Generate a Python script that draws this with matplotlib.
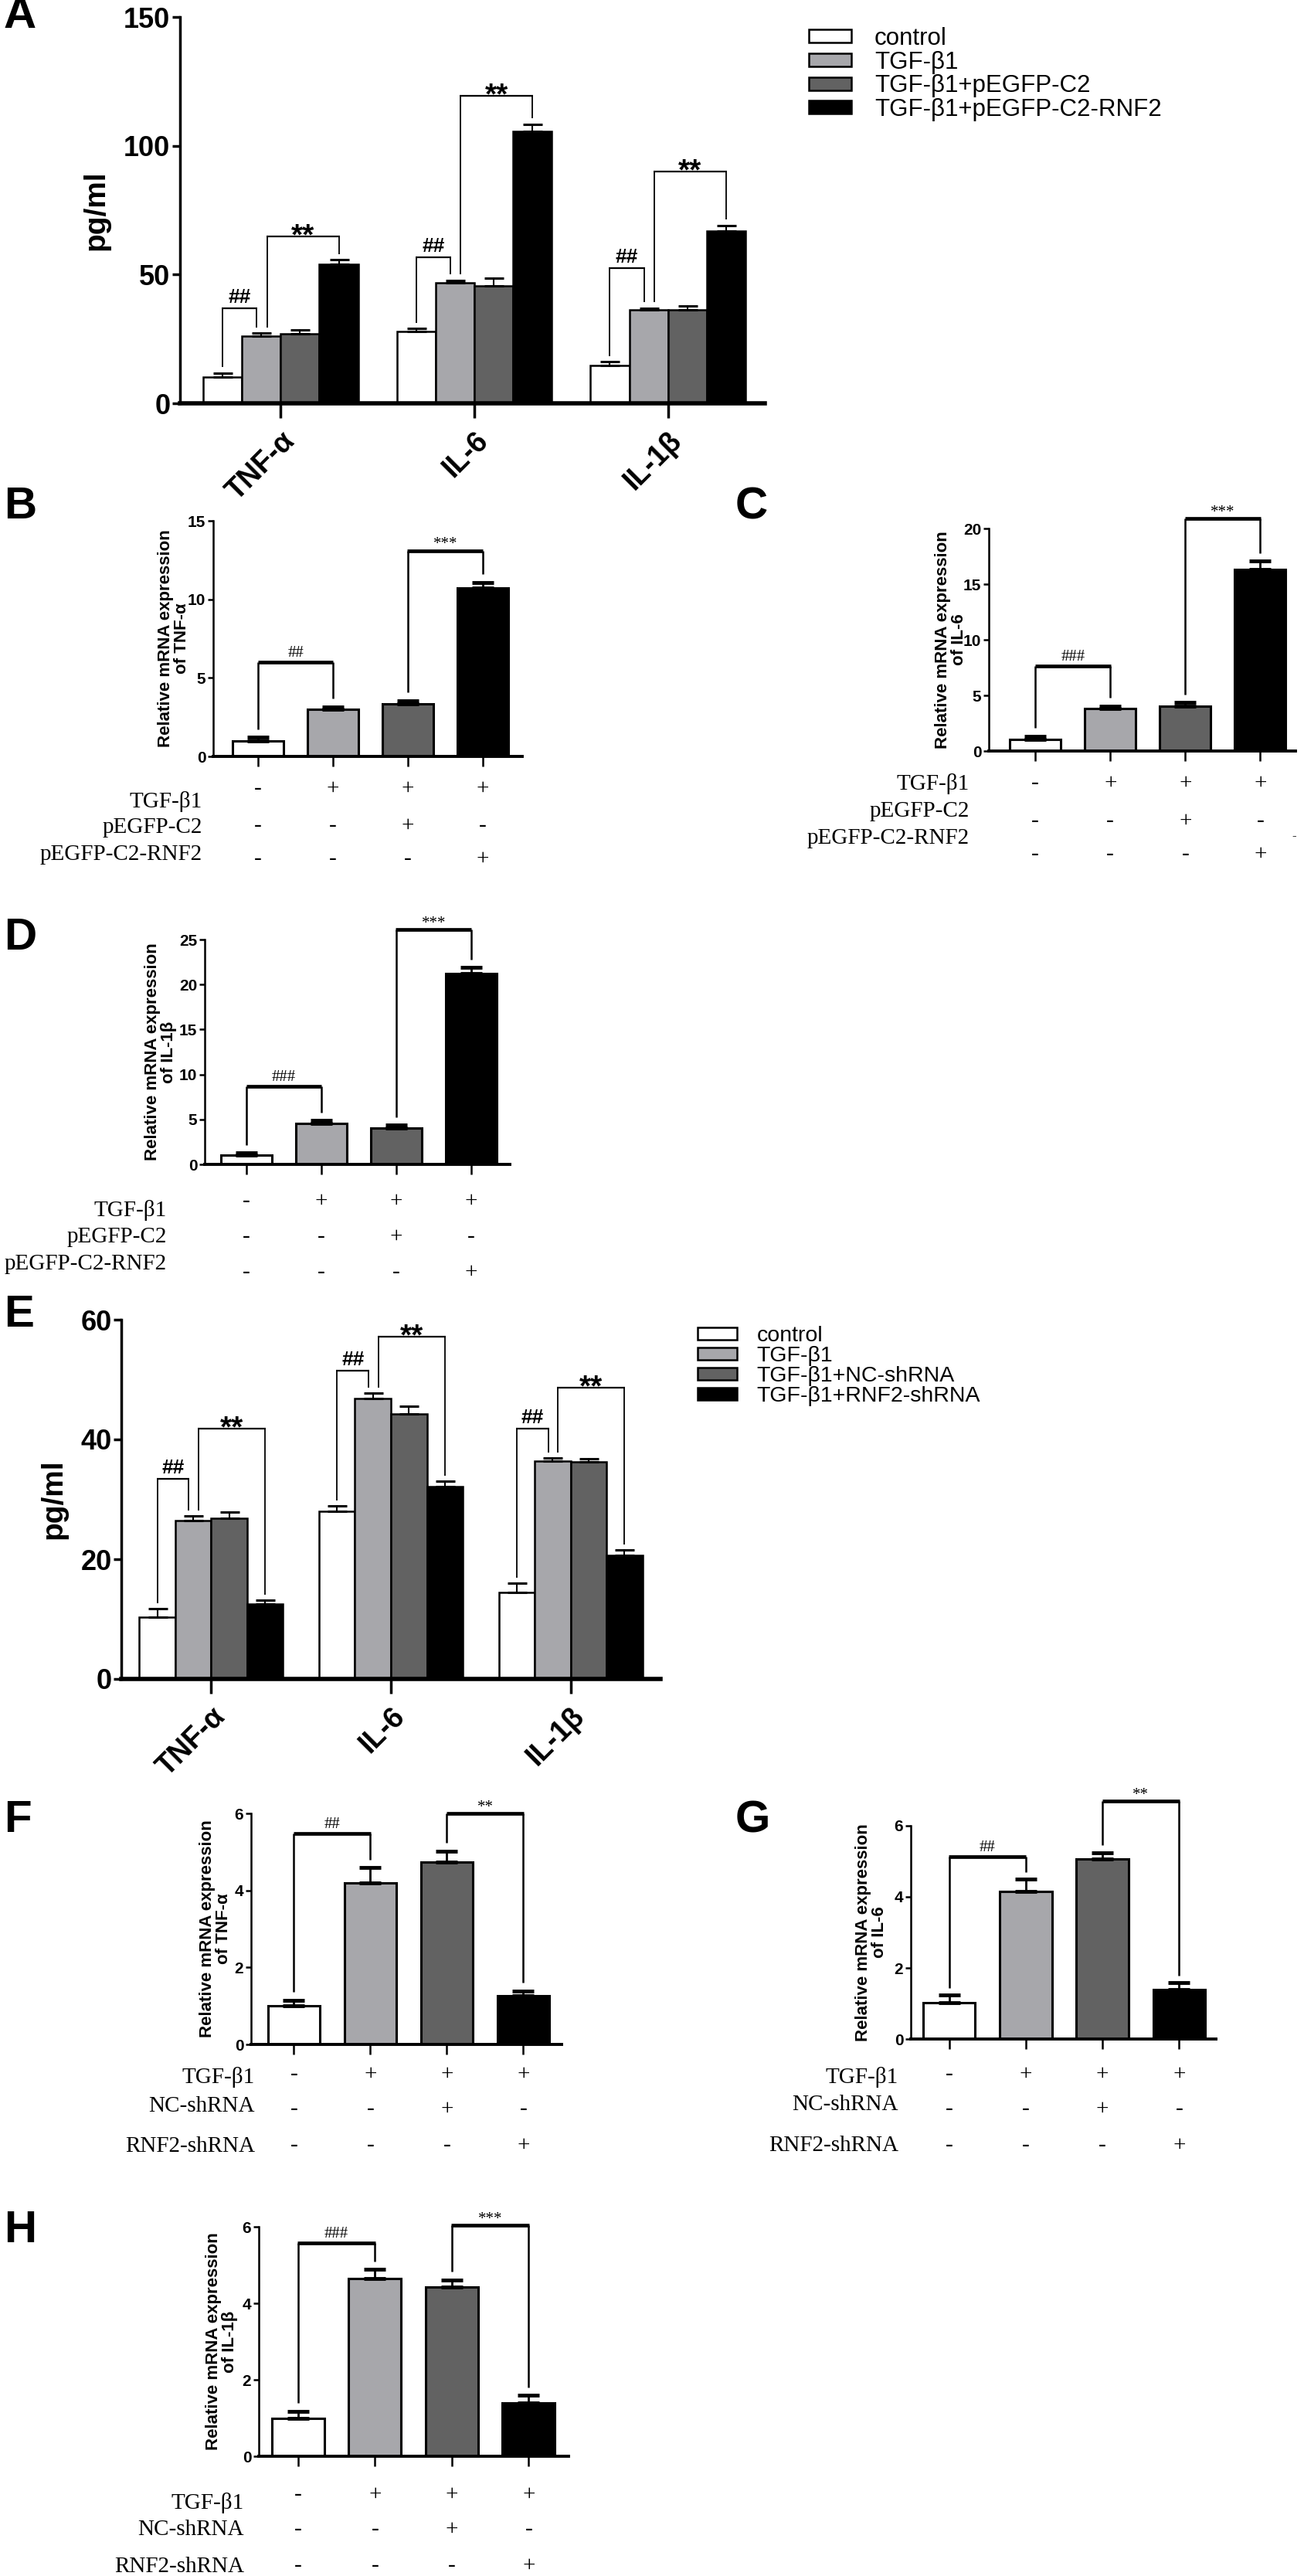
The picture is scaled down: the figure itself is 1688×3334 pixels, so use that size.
import numpy as np
import matplotlib.pyplot as plt
from matplotlib import transforms

plt.rcParams['font.family'] = ['Liberation Sans', 'DejaVu Sans']

W, H = 1688, 3334
fig = plt.figure(figsize=(W / 100, H / 100), dpi=100)

fill = ['#ffffff', '#a7a7ab', '#626262', '#000000']
serif = ['Liberation Serif', 'DejaVu Serif']
narrow = ['Liberation Sans Narrow', 'Liberation Sans', 'DejaVu Sans']

# ---------------- data ----------------
cytokines = ['TNF-α', 'IL-6', 'IL-1β']

# panel A (ELISA, overexpression)
a_groups = ['control', 'TGF-β1', 'TGF-β1+pEGFP-C2', 'TGF-β1+pEGFP-C2-RNF2']
a_mean = np.array([[10.1, 26.2, 27.0, 53.9],
                   [27.8, 46.8, 45.7, 105.6],
                   [14.6, 36.2, 36.4, 66.9]])
a_err = np.array([[1.6, 1.0, 1.4, 1.8],
                  [1.2, 0.9, 2.9, 2.8],
                  [1.5, 0.8, 1.4, 2.1]])
a_hash_y = [37.0, 56.7, 52.6]
a_star_y = [64.7, 119.3, 90.0]

# panel E (ELISA, knockdown)
e_groups = ['control', 'TGF-β1', 'TGF-β1+NC-shRNA', 'TGF-β1+RNF2-shRNA']
e_mean = np.array([[10.3, 26.4, 26.8, 12.5],
                   [28.0, 46.9, 44.2, 32.1],
                   [14.4, 36.4, 36.2, 20.6]])
e_err = np.array([[1.4, 0.8, 1.1, 0.7],
                  [0.9, 0.9, 1.3, 0.9],
                  [1.6, 0.5, 0.6, 1.0]])
e_hash_y = [33.4, 51.5, 41.8]
e_star_y = [41.8, 57.2, 48.7]

# qPCR panels
over_rows = ['TGF-β1', 'pEGFP-C2', 'pEGFP-C2-RNF2']
sh_rows = ['TGF-β1', 'NC-shRNA', 'RNF2-shRNA']
signs = [['-', '+', '+', '+'],
         ['-', '-', '+', '-'],
         ['-', '-', '-', '+']]

b_mean = [1.0, 2.98, 3.35, 10.7]
b_err = [0.22, 0.18, 0.21, 0.36]
c_mean = [1.05, 3.83, 4.06, 16.3]
c_err = [0.3, 0.23, 0.3, 0.8]
d_mean = [1.02, 4.55, 4.0, 21.2]
d_err = [0.28, 0.35, 0.37, 0.7]
f_mean = [1.0, 4.2, 4.74, 1.26]
f_err = [0.15, 0.39, 0.28, 0.13]
g_mean = [1.02, 4.16, 5.07, 1.39]
g_err = [0.21, 0.33, 0.17, 0.19]
h_mean = [1.0, 4.64, 4.43, 1.4]
h_err = [0.18, 0.24, 0.18, 0.19]


# ---------------- helpers ----------------
def axes_px(l, t, r, b):
    return fig.add_axes([l / W, 1 - b / H, (r - l) / W, (b - t) / H])


def letter(ch, x, y):
    fig.text(x / W, 1 - (y - 11) / H, ch, fontsize=42, fontweight='bold',
             ha='left', va='top')


def sig_text(ax, x, y, txt, fs, fam, off, weight='normal'):
    ax.annotate(txt, xy=(x, y), xytext=(0, off), textcoords='offset points',
                ha='center', va='baseline', fontsize=fs, family=fam,
                fontweight=weight, annotation_clip=False)


def bracket(ax, x0, x1, y, y0, y1, lw_h, lw_v):
    kw = dict(color='k', clip_on=False, solid_capstyle='butt')
    ax.plot([x0, x0], [y0, y], lw=lw_v, **kw)
    ax.plot([x1, x1], [y1, y], lw=lw_v, **kw)
    ax.plot([x0 - 0.004, x1 + 0.004], [y, y], lw=lw_h, **kw)


def elisa(box, xlim, ymax, yticks, mean, err, groups, hash_y, star_y, lab_x, leg):
    ax = axes_px(*box)
    bw = 0.2
    x = np.arange(len(cytokines))
    for k in range(4):
        off = (k - 1.5) * bw
        ax.bar(x + off, mean[:, k], width=bw, color=fill[k], edgecolor='k',
               linewidth=1.8, label=groups[k], zorder=2)
        ax.errorbar(x + off, mean[:, k], yerr=[np.zeros(3), err[:, k]], fmt='none',
                    ecolor='k', elinewidth=1.5, capsize=9, capthick=2.2, zorder=3)
    gap = 0.015 * ymax
    for g in range(3):
        c0, c1, c3 = g - 1.5 * bw, g - 0.5 * bw, g + 1.5 * bw
        top = mean[g] + err[g] + gap
        bracket(ax, c0, c1 - 0.12 * bw, hash_y[g], top[0], top[1], 1.6, 1.3)
        sig_text(ax, (c0 + c1 - 0.12 * bw) / 2, hash_y[g], '##', 19,
                 ['Liberation Sans'], 5, 'bold')
        bracket(ax, c1 + 0.15 * bw, c3, star_y[g], top[1], top[3], 1.6, 1.3)
        sig_text(ax, (c1 + 0.15 * bw + c3) / 2, star_y[g], '**', 28,
                 ['Liberation Sans'], -7.5, 'bold')
    ax.set_xlim(*xlim)
    ax.set_ylim(0, ymax)
    ax.set_yticks(yticks)
    ax.set_xticks(x)
    ax.set_xticklabels(cytokines, rotation=45, ha='right', va='top',
                       rotation_mode='anchor', fontsize=27, fontweight='bold')
    for t in ax.get_yticklabels():
        t.set_fontweight('bold')
    ax.tick_params(axis='y', direction='out', length=7, width=2.5, labelsize=26, pad=2)
    ax.tick_params(axis='x', direction='out', length=14, width=2.5, pad=8)
    for s in ['top', 'right']:
        ax.spines[s].set_visible(False)
    ax.spines['left'].set_linewidth(2.5)
    ax.spines['bottom'].set_linewidth(4)
    ax.set_ylabel('pg/ml', fontsize=28, fontweight='bold', va='center')
    ax.yaxis.set_label_coords(lab_x, 0.5)
    fs = leg[2]
    ax.legend(loc='upper left', bbox_to_anchor=(leg[0] / W, 1 - leg[1] / H),
              bbox_transform=fig.transFigure, frameon=False, fontsize=fs,
              handlelength=leg[4], handleheight=0.45, handletextpad=leg[5],
              labelspacing=leg[3], borderpad=0, borderaxespad=0)
    return ax


def qpcr(box, xlim, yticks, mean, err, target, lab_x, hash_txt, hash_y,
         star_txt, star_y, rows, lab_right, lab_y, sign_y):
    ax = axes_px(*box)
    ymax = yticks[-1]
    x = np.arange(4)
    ax.bar(x, mean, width=0.68, color=fill, edgecolor='k', linewidth=2.2, zorder=2)
    ax.errorbar(x, mean, yerr=[np.zeros(4), err], fmt='none', ecolor='k',
                elinewidth=2, capsize=10, capthick=3.5, zorder=3)
    gap = 0.035 * ymax
    top = np.array(mean) + np.array(err) + gap
    bracket(ax, 0, 1, hash_y, top[0], top[1], 3.4, 1.8)
    sig_text(ax, 0.5, hash_y, hash_txt, 15, serif, 5)
    bracket(ax, 2, 3, star_y, top[2], top[3], 3.4, 1.8)
    sig_text(ax, 2.5, star_y, star_txt, 15, serif, 2.5)
    ax.set_xlim(*xlim)
    ax.set_ylim(0, ymax)
    ax.set_yticks(yticks)
    ax.set_xticks(x)
    ax.set_xticklabels([])
    ax.tick_params(axis='y', direction='out', length=5, width=1.8, labelsize=15, pad=2)
    ax.tick_params(axis='x', direction='out', length=9, width=1.8)
    for t in ax.get_yticklabels():
        t.set_fontweight('bold')
        t.set_family(narrow)
    for s in ['top', 'right']:
        ax.spines[s].set_visible(False)
    ax.spines['left'].set_linewidth(1.8)
    ax.spines['bottom'].set_linewidth(2.8)
    ax.set_ylabel('Relative mRNA expression\nof ' + target, fontsize=16,
                  fontweight='bold', va='center', linespacing=1.0)
    ax.yaxis.set_label_coords(lab_x, 0.5)
    # treatment table under the plot
    tr = transforms.blended_transform_factory(ax.transData, fig.transFigure)
    for i, name in enumerate(rows):
        fig.text(lab_right / W, 1 - lab_y[i] / H, name, ha='right', va='center',
                 fontsize=21, family=serif)
        for j in range(4):
            ax.text(x[j], 1 - sign_y[i] / H, signs[i][j], transform=tr,
                    ha='center', va='center', fontsize=21, family=serif, clip_on=False)
    return ax


# ---------------- panels ----------------
elisa((233, 22, 990, 522), (-0.52, 2.5), 150, [0, 50, 100, 150], a_mean, a_err,
      a_groups, a_hash_y, a_star_y, -0.144, (1047, 35, 22.5, 0.02, 1.76, 0.96))
letter('A', 5, 5)

qpcr((276, 674, 676, 979), (-0.6, 3.53), [0, 5, 10, 15], b_mean, b_err, 'TNF-α',
     -0.1275, '##', 6.0, '***', 13.1, over_rows, 262,
     [1037, 1071, 1106], [1021, 1069, 1112])
letter('B', 5, 640)

qpcr((1280, 684, 1677, 972), (-0.62, 3.47), [0, 5, 10, 15, 20], c_mean, c_err, 'IL-6',
     -0.123, '###', 7.67, '***', 20.9, over_rows, 1255,
     [1015, 1050, 1085], [1014, 1063, 1106])
letter('C', 952, 640)
fig.text(1675 / W, 1 - 1082 / H, '-', ha='center', va='center', fontsize=12, family=serif)

qpcr((265, 1216, 660, 1507), (-0.56, 3.52), [0, 5, 10, 15, 20, 25], d_mean, d_err, 'IL-1β',
     -0.144, '###', 8.64, '***', 26.1, over_rows, 216,
     [1566, 1601, 1636], [1555, 1601, 1647])
letter('D', 5, 1198)

elisa((157, 1708, 855, 2173), (-0.5, 2.5), 60, [0, 20, 40, 60], e_mean, e_err,
      e_groups, e_hash_y, e_star_y, -0.125, (903, 1716, 20.5, 0.0, 1.8, 0.88))
letter('E', 5, 1686)

qpcr((325, 2347, 727, 2646), (-0.56, 3.5), [0, 2, 4, 6], f_mean, f_err, 'TNF-α',
     -0.114, '##', 5.47, '**', 5.99, sh_rows, 330,
     [2688, 2726, 2778], [2685, 2730, 2777])
letter('F', 5, 2340)

qpcr((1179, 2363, 1574, 2639), (-0.5, 3.48), [0, 2, 4, 6], g_mean, g_err, 'IL-6',
     -0.129, '##', 5.14, '**', 6.69, sh_rows, 1163,
     [2688, 2724, 2777], [2685, 2730, 2777])
letter('G', 952, 2340)

qpcr((335, 2882, 736, 3179), (-0.51, 3.52), [0, 2, 4, 6], h_mean, h_err, 'IL-1β',
     -0.12, '###', 5.58, '***', 6.04, sh_rows, 316,
     [3239, 3274, 3322], [3229, 3274, 3321])
letter('H', 5, 2871)

fig.savefig('out.png', dpi=100)
